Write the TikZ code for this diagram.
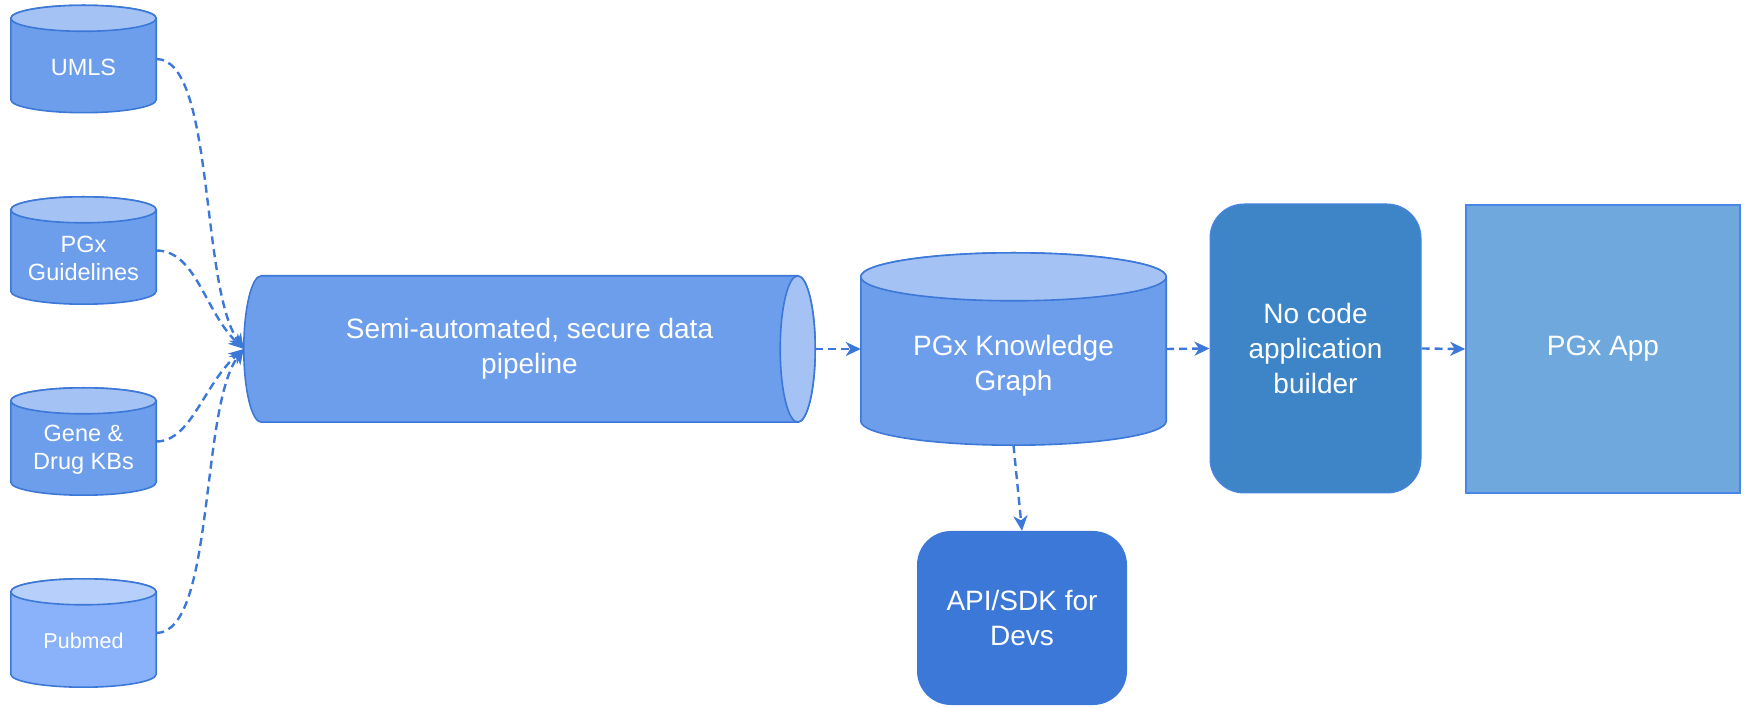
\documentclass[tikz,border=0pt]{standalone}
\usepackage{fontspec}
\setmainfont{Liberation Sans}
\usetikzlibrary{arrows.meta,calc}

\definecolor{edgeblue}{HTML}{3C78D8}
\definecolor{rimblue}{HTML}{4A86E8}
\definecolor{dbbody}{HTML}{6D9EEB}
\definecolor{dbtop}{HTML}{A4C2F4}
\definecolor{pmbody}{HTML}{8AB2FA}
\definecolor{pmtop}{HTML}{B6CFFB}
\definecolor{buildfill}{HTML}{3D85C6}
\definecolor{appfill}{HTML}{6FA8DC}
\definecolor{apifill}{HTML}{3C78D8}

\pgfdeclarelayer{background}
\pgfsetlayers{background,main}

% vertical cylinder drawn behind a named node: node, end radius, body, top
\newcommand\vcyl[4]{%
  \path[fill=#3, draw=edgeblue, line width=1.6pt]
    let \p1=(#1.north west), \p2=(#1.south east), \n1={(\x2-\x1)/2} in
    (\x1,\y1-#2pt) -- (\x1,\y2+#2pt)
    arc[start angle=180, end angle=360, x radius=\n1, y radius=#2pt]
    -- (\x2,\y1-#2pt)
    arc[start angle=0, end angle=180, x radius=\n1, y radius=#2pt] -- cycle;
  \path[fill=#4, draw=edgeblue, line width=1.6pt]
    let \p1=(#1.north west), \p2=(#1.south east), \n1={(\x2-\x1)/2} in
    (\x1,\y1-#2pt) arc[start angle=180, end angle=540, x radius=\n1, y radius=#2pt];
}

\tikzset{
  small/.style={font=\fontsize{23.5}{28}\selectfont},
  large/.style={font=\fontsize{28}{35}\selectfont},
  db/.style={minimum width=145pt, minimum height=107pt, inner sep=0pt},
  dblabel/.style={text=white, align=center, small, yshift=-8pt},
  conn/.style={draw=edgeblue, line width=2.4pt, dash pattern=on 8pt off 5pt,
    -{Stealth[length=15pt, width=14pt, inset=4.5pt]}},
  box/.style={text=white, align=center, large, inner sep=0pt},
}

\begin{document}
\begin{tikzpicture}[x=1pt, y=1pt]
\useasboundingbox (0,0) rectangle (1748,707);

% data sources
\node[db, label={[dblabel]center:UMLS}] (umls) at (83.5,648) {};
\node[db, label={[dblabel]center:PGx\\Guidelines}] (guide) at (83.5,456.5) {};
\node[db, label={[dblabel]center:Gene \&\\Drug KBs}] (gene) at (83.5,265.5) {};
\node[db, minimum height=108pt,
  label={[dblabel, font=\fontsize{21.5}{26}\selectfont]center:Pubmed}] (pubmed) at (83.5,74) {};

% processing chain
\node[box, minimum width=571pt, minimum height=146pt] (pipe) at (529.5,358)
  {Semi-automated, secure data\\pipeline};
\node[db, minimum width=305pt, minimum height=192pt,
  label={[dblabel, large, yshift=-9pt]center:PGx Knowledge\\Graph}] (kg) at (1013.5,358) {};
\node[box, fill=buildfill, draw=rimblue, line width=1pt, rounded corners=34pt,
  minimum width=211pt, minimum height=289pt] (nocode) at (1315.5,358.5)
  {No code\\application\\builder};
\node[box, fill=appfill, draw=rimblue, line width=1.6pt,
  minimum width=274pt, minimum height=288pt] (app) at (1603,358) {PGx App};
\node[box, fill=apifill, rounded corners=34pt,
  minimum width=210pt, minimum height=174pt] (api) at (1022,89)
  {API/SDK for\\Devs};

% cylinder bodies, behind their labels
\begin{pgfonlayer}{background}
  \vcyl{umls}{13}{dbbody}{dbtop}
  \vcyl{guide}{13}{dbbody}{dbtop}
  \vcyl{gene}{13}{dbbody}{dbtop}
  \vcyl{pubmed}{13}{pmbody}{pmtop}
  \vcyl{kg}{24}{dbbody}{dbtop}
  % horizontal pipeline cylinder
  \path[fill=dbbody, draw=edgeblue, line width=1.6pt]
    let \p1=(pipe.north west), \p2=(pipe.south east), \n1={(\y1-\y2)/2} in
    (\x1+17.5pt,\y1) -- (\x2-17.5pt,\y1)
    arc[start angle=90, end angle=-90, x radius=17.5pt, y radius=\n1]
    -- (\x1+17.5pt,\y2)
    arc[start angle=270, end angle=90, x radius=17.5pt, y radius=\n1] -- cycle;
  \path[fill=dbtop, draw=edgeblue, line width=1.6pt]
    let \p1=(pipe.north west), \p2=(pipe.south east), \n1={(\y1-\y2)/2} in
    (\x2-17.5pt,\y1) arc[start angle=90, end angle=450, x radius=17.5pt, y radius=\n1];
\end{pgfonlayer}

% feeds into the pipeline
\draw[conn] (umls.east) .. controls +(59,0) and +(-44,62) .. (pipe.west);
\draw[conn] (guide.east) .. controls +(40,0) and +(-39,37) .. (pipe.west);
\draw[conn] (gene.east) .. controls +(35,0) and +(-40,-35) .. (pipe.west);
\draw[conn] (pubmed.east) .. controls +(59,0) and +(-44,-58) .. (pipe.west);

% main flow
\draw[conn] (pipe.east) -- (kg.west);
\draw[conn] (kg.east) -- (nocode.west);
\draw[conn] (nocode.east) -- (app.west);
\draw[conn] (kg.south) -- (api.north);
\end{tikzpicture}
\end{document}
